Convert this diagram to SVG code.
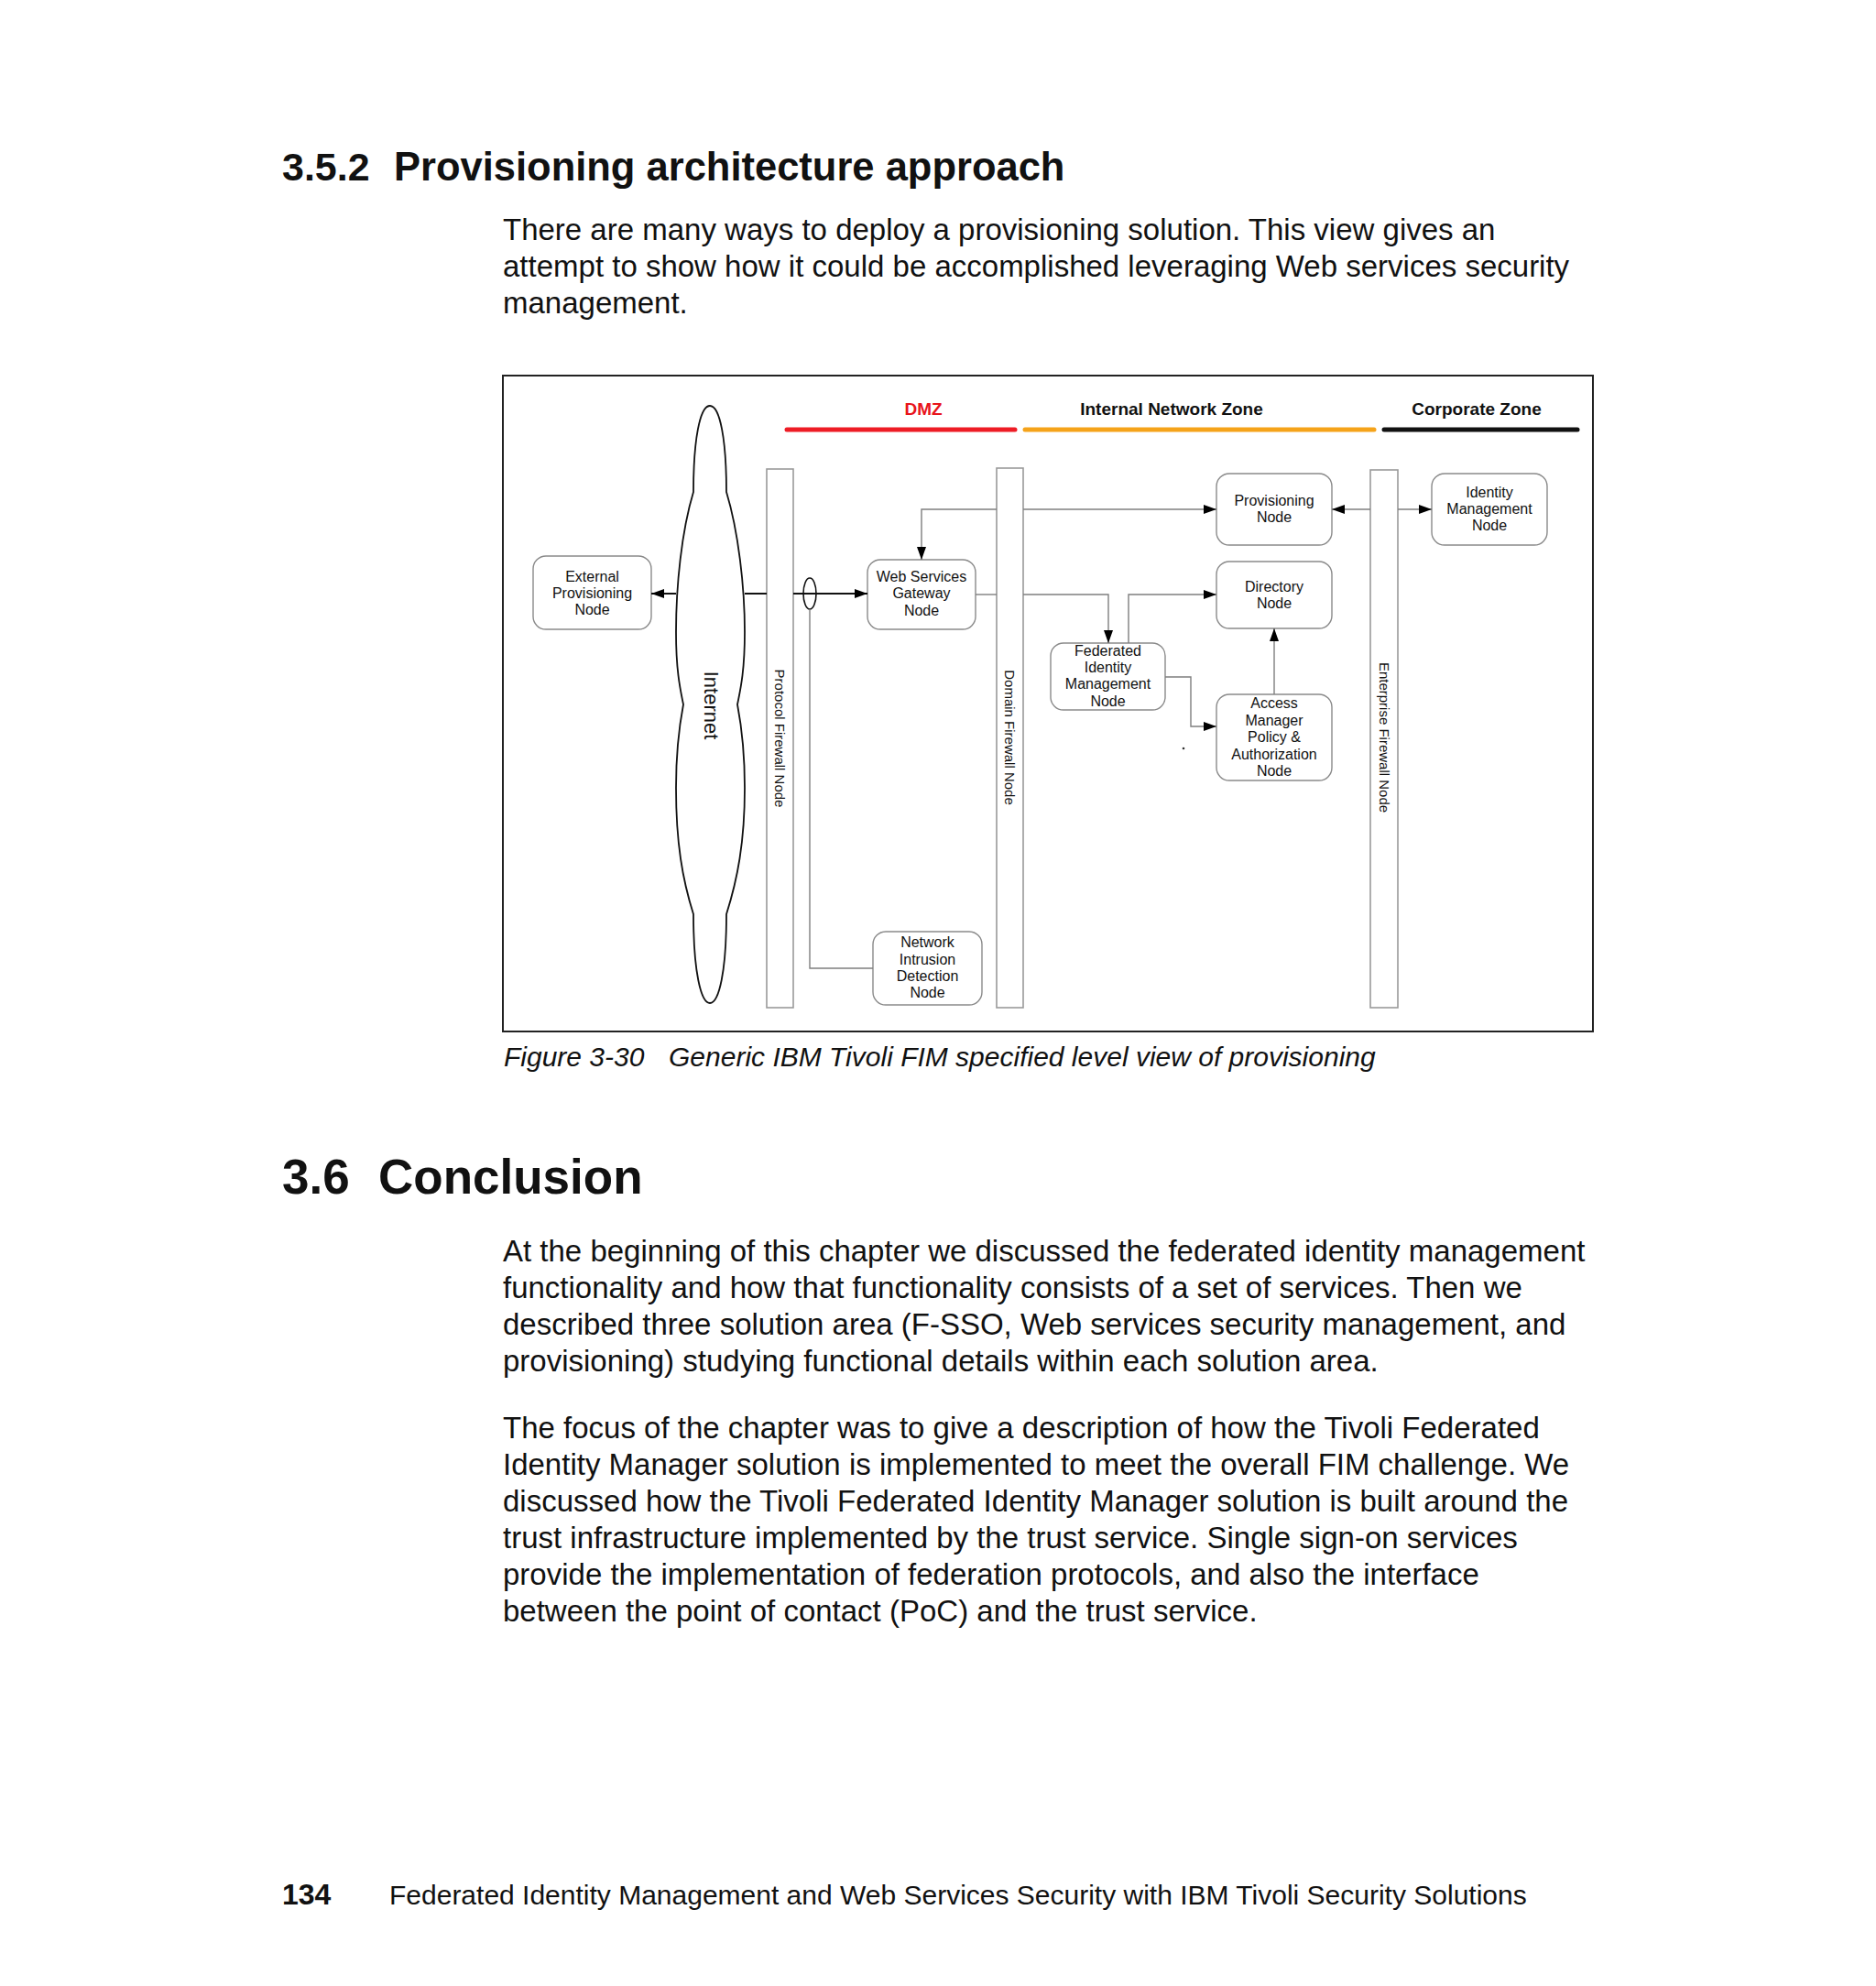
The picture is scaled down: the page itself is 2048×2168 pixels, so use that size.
<svg xmlns="http://www.w3.org/2000/svg" width="2048" height="2168" viewBox="0 0 2048 2168">
<defs>
<style>
.body{font-family:"Liberation Sans",Arial,Helvetica,sans-serif;font-size:33px;fill:#111}
.h{font-family:"Liberation Sans",Arial,Helvetica,sans-serif;font-weight:bold;fill:#111}
.cap{font-family:"Liberation Sans",Arial,Helvetica,sans-serif;font-style:italic;font-size:30px;fill:#111}
.foot{font-family:"Liberation Sans",Arial,Helvetica,sans-serif;font-size:30px;fill:#111}
.zone{font-family:"Liberation Sans",Arial,Helvetica,sans-serif;font-weight:bold;font-size:19px;text-anchor:middle}
.nt{font-family:"Liberation Sans",Arial,Helvetica,sans-serif;font-size:16px;fill:#111;text-anchor:middle}
.fwt{font-family:"Liberation Sans",Arial,Helvetica,sans-serif;font-size:15px;fill:#111;text-anchor:middle;dominant-baseline:central}
.inet{font-family:"Liberation Sans",Arial,Helvetica,sans-serif;font-size:22px;fill:#111;text-anchor:middle;dominant-baseline:central}
.node{fill:#fff;stroke:#8a8a8a;stroke-width:1.4}
.fw{fill:#fff;stroke:#9a9a9a;stroke-width:1.6}
.cg{fill:none;stroke:#7f7f7f;stroke-width:1.4}
.ck{fill:none;stroke:#111;stroke-width:2}
</style>
<marker id="arr" markerWidth="14" markerHeight="10" refX="14" refY="5" orient="auto" markerUnits="userSpaceOnUse">
<path d="M0,0 L14,5 L0,10 Z" fill="#000"/>
</marker>
</defs>
<rect x="0" y="0" width="2048" height="2168" fill="#fff"/>

<!-- page text -->
<text class="h" font-size="43" x="308" y="197">3.5.2</text>
<text class="h" font-size="43.5" x="430" y="197">Provisioning architecture approach</text>
<text class="body" x="549" y="262">There are many ways to deploy a provisioning solution. This view gives an</text>
<text class="body" x="549" y="302">attempt to show how it could be accomplished leveraging Web services security</text>
<text class="body" x="549" y="342">management.</text>

<!-- figure frame -->
<rect x="549" y="410" width="1190" height="716" fill="none" stroke="#222" stroke-width="2"/>

<!-- zones -->
<g id="zones">
<text class="zone" x="1008" y="453" fill="#e8141b">DMZ</text>
<line x1="859" y1="469" x2="1108" y2="469" stroke="#ee1c25" stroke-width="5" stroke-linecap="round"/>
<text class="zone" x="1279" y="453" fill="#111">Internal Network Zone</text>
<line x1="1119" y1="469" x2="1500" y2="469" stroke="#f5a31a" stroke-width="5" stroke-linecap="round"/>
<text class="zone" x="1612" y="453" fill="#111">Corporate Zone</text>
<line x1="1511" y1="469" x2="1722" y2="469" stroke="#111" stroke-width="5" stroke-linecap="round"/>
</g>

<!-- nodes -->
<g id="internet">
<path d="M775,443 C764,443 757,480 757,537 C744,580 738,640 738,690 C738,730 742,750 746,769 C742,790 738,820 738,860 C738,920 745,960 757,998 C757,1060 765,1095 775,1095 C785,1095 793,1060 793,998 C805,960 813,920 813,860 C813,820 809,790 805,769 C809,750 813,730 813,690 C813,640 806,580 793,537 C793,480 786,443 775,443 Z" fill="#fff" stroke="#111" stroke-width="1.8"/>
<text class="inet" transform="translate(776,770) rotate(90)">Internet</text>
</g>

<g id="protocol-firewall">
<rect class="fw" x="837" y="512" width="29" height="588"/>
<text class="fwt" transform="translate(851.5,806) rotate(90)">Protocol Firewall Node</text>
</g>

<g id="domain-firewall">
<rect class="fw" x="1088" y="511" width="29" height="589"/>
<text class="fwt" transform="translate(1102.5,805) rotate(90)">Domain Firewall Node</text>
</g>

<g id="enterprise-firewall">
<rect class="fw" x="1496" y="513" width="30" height="587"/>
<text class="fwt" transform="translate(1511,805) rotate(90)">Enterprise Firewall Node</text>
</g>

<g id="external-provisioning">
<rect class="node" x="582" y="607" width="129" height="80" rx="14"/>
<text class="nt" x="646.5" y="635">External</text>
<text class="nt" x="646.5" y="653">Provisioning</text>
<text class="nt" x="646.5" y="671">Node</text>
</g>

<g id="ws-gateway">
<rect class="node" x="947" y="611" width="118" height="76" rx="14"/>
<text class="nt" x="1006" y="635">Web Services</text>
<text class="nt" x="1006" y="653">Gateway</text>
<text class="nt" x="1006" y="672">Node</text>
</g>

<g id="provisioning">
<rect class="node" x="1328" y="517" width="126" height="78" rx="14"/>
<text class="nt" x="1391" y="552">Provisioning</text>
<text class="nt" x="1391" y="570">Node</text>
</g>

<g id="identity-management">
<rect class="node" x="1563" y="517" width="126" height="78" rx="14"/>
<text class="nt" x="1626" y="543">Identity</text>
<text class="nt" x="1626" y="561">Management</text>
<text class="nt" x="1626" y="579">Node</text>
</g>

<g id="directory">
<rect class="node" x="1328" y="613" width="126" height="73" rx="14"/>
<text class="nt" x="1391" y="646">Directory</text>
<text class="nt" x="1391" y="664">Node</text>
</g>

<g id="federated-identity">
<rect class="node" x="1147" y="702" width="125" height="73" rx="14"/>
<text class="nt" x="1209.5" y="716">Federated</text>
<text class="nt" x="1209.5" y="734">Identity</text>
<text class="nt" x="1209.5" y="752">Management</text>
<text class="nt" x="1209.5" y="771">Node</text>
</g>

<g id="access-manager">
<rect class="node" x="1328" y="758" width="126" height="94" rx="14"/>
<text class="nt" x="1391" y="773">Access</text>
<text class="nt" x="1391" y="792">Manager</text>
<text class="nt" x="1391" y="810">Policy &amp;</text>
<text class="nt" x="1391" y="829">Authorization</text>
<text class="nt" x="1391" y="847">Node</text>
</g>

<g id="network-intrusion">
<rect class="node" x="953" y="1017" width="119" height="80" rx="14"/>
<text class="nt" x="1012.5" y="1034">Network</text>
<text class="nt" x="1012.5" y="1053">Intrusion</text>
<text class="nt" x="1012.5" y="1071">Detection</text>
<text class="nt" x="1012.5" y="1089">Node</text>
</g>

<!-- connectors -->
<g id="connectors">
<path class="ck" d="M738,648 H711" marker-end="url(#arr)"/>
<path class="ck" d="M813,648 H837"/>
<path class="ck" d="M866,648 H947" marker-end="url(#arr)"/>
<ellipse cx="884" cy="648" rx="7" ry="17" fill="none" stroke="#111" stroke-width="1.6"/>
<path class="cg" d="M884,665 V1057 H953"/>
<path class="cg" d="M1088,556 H1006 V611" marker-end="url(#arr)"/>
<path class="cg" d="M1117,556 H1328" marker-end="url(#arr)"/>
<path class="cg" d="M1065,649 H1088"/>
<path class="cg" d="M1117,649 H1210 V702" marker-end="url(#arr)"/>
<path class="cg" d="M1232,702 V649 H1328" marker-end="url(#arr)"/>
<path class="cg" d="M1272,739 H1300 V793 H1328" marker-end="url(#arr)"/>
<path class="cg" d="M1391,758 V686" marker-end="url(#arr)"/>
<path class="cg" d="M1496,556 H1454" marker-end="url(#arr)"/>
<path class="cg" d="M1526,556 H1563" marker-end="url(#arr)"/>
<circle cx="1292" cy="817" r="1.3" fill="#333"/>
</g>

<!-- caption and following text -->
<text class="cap" x="550" y="1164">Figure 3-30</text>
<text class="cap" x="730" y="1164">Generic IBM Tivoli FIM specified level view of provisioning</text>

<text class="h" font-size="53" x="308" y="1303">3.6</text>
<text class="h" font-size="53" x="413" y="1303">Conclusion</text>

<text class="body" x="549" y="1377">At the beginning of this chapter we discussed the federated identity management</text>
<text class="body" x="549" y="1417">functionality and how that functionality consists of a set of services. Then we</text>
<text class="body" x="549" y="1457">described three solution area (F-SSO, Web services security management, and</text>
<text class="body" x="549" y="1497">provisioning) studying functional details within each solution area.</text>

<text class="body" x="549" y="1570">The focus of the chapter was to give a description of how the Tivoli Federated</text>
<text class="body" x="549" y="1610">Identity Manager solution is implemented to meet the overall FIM challenge. We</text>
<text class="body" x="549" y="1650">discussed how the Tivoli Federated Identity Manager solution is built around the</text>
<text class="body" x="549" y="1690">trust infrastructure implemented by the trust service. Single sign-on services</text>
<text class="body" x="549" y="1730">provide the implementation of federation protocols, and also the interface</text>
<text class="body" x="549" y="1770">between the point of contact (PoC) and the trust service.</text>

<text class="h" font-size="32" x="308" y="2079">134</text>
<text class="foot" x="425" y="2079">Federated Identity Management and Web Services Security with IBM Tivoli Security Solutions</text>
</svg>
